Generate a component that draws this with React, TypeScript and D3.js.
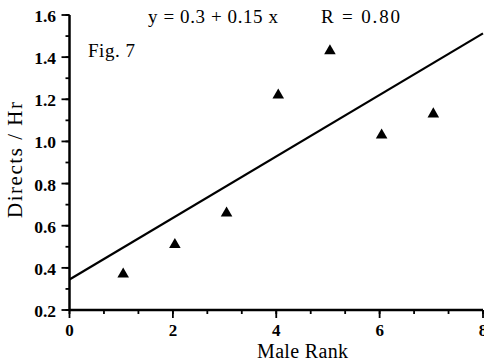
import React from "react";
import * as d3 from "d3";

// Male rank vs. direct interactions per hour
const maleRank = [1, 2, 3, 4, 5, 6, 7];
const directsPerHr = [0.37, 0.51, 0.66, 1.22, 1.43, 1.03, 1.13];

// Fitted line y = a + b x and correlation
const fitCoefficients = [0.345, 0.146];
const correlationR = 0.8;

const xTicks = [0, 2, 4, 6, 8];
const yTicks = [0.2, 0.4, 0.6, 0.8, 1.0, 1.2, 1.4, 1.6];
const xMinorTicks = d3.range(0, 8.001, 2 / 3);
const yMinorTicks = d3.range(0.2, 1.6001, 0.1);

const figureLabel = "Fig. 7";
const xLabel = "Male Rank";
const yLabel = "Directs / Hr";

const W = 484;
const H = 364;
const FONT = "'Liberation Serif', 'DejaVu Serif', serif";

export default function App() {
  const x = d3.scaleLinear().domain([0, 8]).range([69.5, 483]);
  const y = d3.scaleLinear().domain([0.2, 1.6]).range([310, 15]);

  const [a, b] = fitCoefficients;
  const fitLine = d3
    .line<number>()
    .x((d) => x(d))
    .y((d) => y(a + b * d))([0, 8]);

  const tri = d3.symbol().type(d3.symbolTriangle).size(58)();

  const eqText = `y = ${d3.format(".1f")(a)} + ${d3.format(".2f")(b)} x`;
  const rText = `R = ${d3.format(".2f")(correlationR)}`;

  return (
    <svg
      width={W}
      height={H}
      style={{ position: "absolute", left: 0, top: 0, background: "#fff" }}
      fontFamily={FONT}
    >
      <rect width={W} height={H} fill="#fff" />

      {/* minor ticks */}
      {yMinorTicks.map((t, i) => (
        <line key={`ym${i}`} x1={x(0) - 4} x2={x(0)} y1={y(t)} y2={y(t)} stroke="#000" strokeWidth={1.8} />
      ))}
      {xMinorTicks.map((t, i) => (
        <line key={`xm${i}`} x1={x(t)} x2={x(t)} y1={y(0.2)} y2={y(0.2) + 4} stroke="#000" strokeWidth={1.8} />
      ))}

      {/* major ticks and labels */}
      {yTicks.map((t) => (
        <g key={`y${t}`}>
          <line x1={x(0) - 8} x2={x(0)} y1={y(t)} y2={y(t)} stroke="#000" strokeWidth={1.8} />
          <text x={x(0) - 13.5} y={y(t) + 7} textAnchor="end" fontSize={17.5} fontWeight="bold" fill="#000">
            {d3.format(".1f")(t)}
          </text>
        </g>
      ))}
      {xTicks.map((t) => (
        <g key={`x${t}`}>
          <line x1={x(t)} x2={x(t)} y1={y(0.2)} y2={y(0.2) + 8} stroke="#000" strokeWidth={1.8} />
          <text x={x(t)} y={y(0.2) + 26} textAnchor="middle" fontSize={17} fontWeight="bold" fill="#000">
            {t}
          </text>
        </g>
      ))}

      {/* axes */}
      <line x1={x(0)} x2={x(0)} y1={y(1.6)} y2={y(0.2) + 1} stroke="#000" strokeWidth={2.5} />
      <line x1={x(0)} x2={x(8)} y1={y(0.2)} y2={y(0.2)} stroke="#000" strokeWidth={2.5} />

      {/* regression line */}
      <path d={fitLine ?? ""} fill="none" stroke="#000" strokeWidth={2.2} />

      {/* data points */}
      {maleRank.map((r, i) => (
        <path key={`p${i}`} d={tri ?? ""} transform={`translate(${x(r) + 2},${y(directsPerHr[i])})`} fill="#000" />
      ))}

      {/* annotations */}
      <text x={148} y={23} fontSize={19} textLength={130} lengthAdjust="spacing" fill="#000">
        {eqText}
      </text>
      <text x={321} y={23} fontSize={19} textLength={79} lengthAdjust="spacing" fill="#000">
        {rText}
      </text>
      <text x={88} y={57} fontSize={19} textLength={47} lengthAdjust="spacing" fill="#000">
        {figureLabel}
      </text>
      <text x={257} y={358} fontSize={20} textLength={91} lengthAdjust="spacing" fill="#000">
        {xLabel}
      </text>
      <text
        transform={`translate(22,218) rotate(-90)`}
        fontSize={21}
        textLength={116}
        lengthAdjust="spacing"
        fill="#000"
      >
        {yLabel}
      </text>
    </svg>
  );
}
